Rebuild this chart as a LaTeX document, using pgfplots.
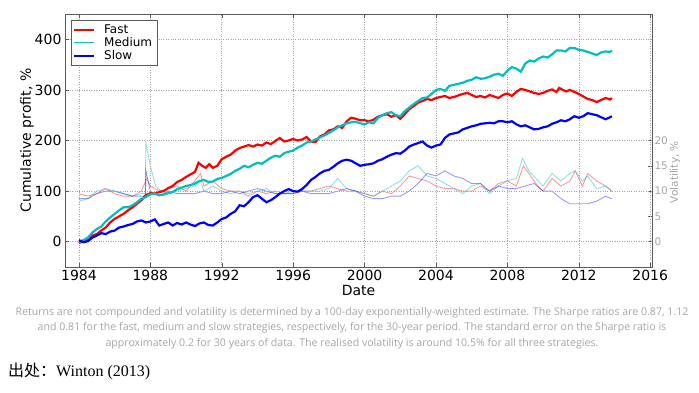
\documentclass[border=0pt]{standalone}
\usepackage{fontspec}
\setmainfont{DejaVu Sans}
\newfontfamily\capfont{Open Sans}
\newfontfamily\cjk{Noto Sans CJK SC}
\newfontfamily\serifw{Liberation Serif}
\usepackage{pgfplots}
\usepackage{pgfplotstable}
\pgfplotsset{compat=1.18}
\definecolor{mred}{rgb}{1,0,0}
\definecolor{mcyan}{rgb}{0,0.75,0.75}
\definecolor{mblue}{rgb}{0,0,1}
\definecolor{capgray}{RGB}{165,165,165}
\definecolor{spine}{RGB}{90,90,90}

\pgfplotstableread{
x y
1984.0 -3
1984.25 2
1984.5 5
1984.75 12
1985.0 15
1985.25 22
1985.5 28
1985.75 38
1986.0 45
1986.25 50
1986.5 55
1986.75 62
1987.0 68
1987.25 75
1987.5 82
1987.75 92
1988.0 96
1988.25 95
1988.5 98
1988.75 100
1989.0 106
1989.25 110
1989.5 118
1989.75 122
1990.0 128
1990.25 133
1990.5 138
1990.7 156
1990.9 150
1991.1 146
1991.3 153
1991.5 146
1991.75 150
1992.0 163
1992.25 168
1992.5 172
1992.75 180
1993.0 185
1993.25 188
1993.5 191
1993.75 188
1994.0 192
1994.25 190
1994.5 196
1994.75 193
1995.0 199
1995.25 205
1995.5 198
1995.75 200
1996.0 203
1996.25 200
1996.5 202
1996.75 207
1997.0 198
1997.25 197
1997.5 208
1997.75 212
1998.0 220
1998.25 222
1998.5 228
1998.75 225
1999.0 238
1999.25 245
1999.5 243
1999.75 240
2000.0 240
2000.25 238
2000.5 241
2000.75 247
2001.0 250
2001.25 252
2001.5 247
2001.75 250
2002.0 243
2002.25 252
2002.5 262
2002.75 268
2003.0 275
2003.25 278
2003.5 282
2003.75 280
2004.0 284
2004.25 286
2004.5 288
2004.75 284
2005.0 286
2005.25 289
2005.5 292
2005.75 294
2006.0 290
2006.25 286
2006.5 288
2006.75 285
2007.0 290
2007.25 287
2007.5 284
2007.75 290
2008.0 293
2008.25 288
2008.5 296
2008.75 302
2009.0 300
2009.25 297
2009.5 294
2009.75 292
2010.0 294
2010.25 298
2010.5 301
2010.75 296
2010.9 304
2011.1 300
2011.3 297
2011.5 300
2011.75 296
2012.0 292
2012.25 287
2012.5 282
2012.75 280
2013.0 276
2013.25 280
2013.5 284
2013.75 281
2013.85 284
}\fast

\pgfplotstableread{
x y
1984.0 0
1984.25 3
1984.5 8
1984.75 18
1985.0 25
1985.25 30
1985.5 40
1985.75 48
1986.0 55
1986.25 62
1986.5 68
1986.75 68
1987.0 72
1987.25 78
1987.5 85
1987.75 88
1988.0 94
1988.25 95
1988.5 92
1988.75 93
1989.0 96
1989.25 98
1989.5 104
1989.75 107
1990.0 110
1990.25 112
1990.5 115
1990.75 120
1991.0 122
1991.25 118
1991.5 119
1991.75 124
1992.0 126
1992.25 130
1992.5 134
1992.75 140
1993.0 144
1993.25 150
1993.5 147
1993.75 152
1994.0 156
1994.25 154
1994.5 160
1994.75 166
1995.0 170
1995.25 168
1995.5 175
1995.75 178
1996.0 180
1996.25 186
1996.5 190
1996.75 196
1997.0 198
1997.25 202
1997.5 206
1997.75 210
1998.0 215
1998.25 220
1998.5 226
1998.75 230
1999.0 234
1999.25 236
1999.5 237
1999.75 234
2000.0 232
2000.25 236
2000.5 234
2000.75 245
2001.0 250
2001.25 254
2001.5 256
2001.75 250
2002.0 248
2002.25 258
2002.5 265
2002.75 272
2003.0 278
2003.25 284
2003.5 285
2003.75 292
2004.0 300
2004.25 302
2004.5 298
2004.75 308
2005.0 310
2005.25 312
2005.5 314
2005.75 318
2006.0 320
2006.25 325
2006.5 322
2006.75 323
2007.0 326
2007.25 330
2007.5 332
2007.75 328
2008.0 338
2008.25 345
2008.5 342
2008.75 336
2009.0 352
2009.25 358
2009.5 356
2009.75 362
2010.0 366
2010.25 364
2010.5 370
2010.75 378
2011.0 378
2011.25 376
2011.5 383
2011.75 383
2012.0 379
2012.25 378
2012.5 375
2012.75 372
2013.0 369
2013.25 374
2013.5 376
2013.75 375
2013.85 378
}\medium

\pgfplotstableread{
x y
1984.0 3
1984.25 -1
1984.5 1
1984.75 8
1985.0 12
1985.25 17
1985.5 15
1985.75 20
1986.0 22
1986.25 28
1986.5 30
1986.75 33
1987.0 35
1987.25 40
1987.5 42
1987.75 38
1988.0 40
1988.25 44
1988.5 32
1988.75 35
1989.0 38
1989.25 32
1989.5 37
1989.75 34
1990.0 38
1990.25 34
1990.5 31
1990.75 36
1991.0 38
1991.25 33
1991.5 32
1991.75 38
1992.0 45
1992.25 48
1992.5 55
1992.75 60
1993.0 72
1993.25 70
1993.5 78
1993.75 88
1994.0 92
1994.25 85
1994.5 78
1994.75 82
1995.0 88
1995.25 95
1995.5 100
1995.75 104
1996.0 100
1996.25 99
1996.5 104
1996.75 112
1997.0 122
1997.25 128
1997.5 135
1997.75 140
1998.0 142
1998.25 148
1998.5 155
1998.75 160
1999.0 162
1999.25 160
1999.5 155
1999.75 150
2000.0 152
2000.25 153
2000.5 155
2000.75 160
2001.0 163
2001.25 168
2001.5 172
2001.75 175
2002.0 174
2002.25 180
2002.5 188
2002.75 192
2003.0 195
2003.25 198
2003.5 190
2003.75 186
2004.0 190
2004.25 192
2004.5 205
2004.75 212
2005.0 214
2005.25 216
2005.5 222
2005.75 225
2006.0 228
2006.25 230
2006.5 233
2006.75 234
2007.0 235
2007.25 234
2007.5 238
2007.75 238
2008.0 236
2008.25 238
2008.5 232
2008.75 228
2009.0 230
2009.25 226
2009.5 222
2009.75 223
2010.0 226
2010.25 228
2010.5 233
2010.75 236
2011.0 240
2011.25 238
2011.5 242
2011.75 248
2012.0 245
2012.25 248
2012.5 254
2012.75 252
2013.0 250
2013.25 246
2013.5 242
2013.75 246
2013.85 248
}\slow

\pgfplotstableread{
x v
1984.0 9.5
1984.5 9.0
1985.0 9.5
1985.5 10.5
1986.0 9.5
1986.5 9.0
1987.0 9.0
1987.5 10.0
1987.8 12.5
1988.0 11.0
1988.5 10.0
1989.0 10.5
1989.5 11.0
1990.0 10.0
1990.5 12.0
1990.8 13.5
1991.0 11.0
1991.5 12.0
1992.0 10.5
1992.5 10.0
1993.0 10.0
1993.5 9.0
1994.0 10.0
1994.5 9.5
1995.0 10.0
1995.5 9.5
1996.0 9.5
1996.5 10.0
1997.0 10.0
1997.5 10.5
1998.0 11.0
1998.5 10.5
1999.0 10.0
1999.5 10.0
2000.0 9.5
2000.5 9.0
2001.0 10.0
2001.5 9.5
2002.0 11.0
2002.5 13.0
2003.0 12.5
2003.5 12.0
2004.0 11.0
2004.5 10.5
2005.0 10.5
2005.5 10.0
2006.0 10.0
2006.5 11.0
2007.0 10.0
2007.5 11.5
2008.0 12.0
2008.5 11.0
2008.9 15.0
2009.3 13.0
2009.7 11.0
2010.0 10.0
2010.5 12.5
2011.0 11.0
2011.5 12.0
2011.8 14.0
2012.2 11.0
2012.5 13.5
2013.0 12.0
2013.5 11.0
2013.85 10.0
}\fastvol

\pgfplotstableread{
x v
1984.0 8.0
1984.5 8.5
1985.0 10.0
1985.5 10.5
1986.0 10.0
1986.5 9.5
1987.0 9.0
1987.5 9.5
1987.72 9.5
1987.75 19.5
1988.0 15.0
1988.3 11.0
1988.6 10.0
1989.0 9.5
1989.5 10.0
1990.0 10.5
1990.5 11.0
1990.8 12.0
1991.0 10.0
1991.5 11.0
1992.0 10.0
1992.5 9.5
1993.0 10.0
1993.5 9.5
1994.0 10.0
1994.5 10.5
1995.0 9.5
1995.5 9.5
1996.0 10.0
1996.5 10.0
1997.0 10.0
1997.5 10.0
1998.0 10.5
1998.5 12.5
1999.0 10.5
1999.5 10.0
2000.0 9.5
2000.5 9.0
2001.0 10.0
2001.5 11.0
2002.0 12.0
2002.5 14.0
2003.0 15.0
2003.5 13.0
2004.0 12.5
2004.5 11.5
2005.0 10.5
2005.5 9.5
2006.0 11.0
2006.5 11.5
2007.0 9.5
2007.5 11.0
2008.0 12.0
2008.5 12.5
2008.85 16.5
2009.2 14.0
2009.6 12.5
2010.0 11.0
2010.5 13.5
2011.0 12.0
2011.5 13.5
2011.8 14.0
2012.2 12.0
2012.5 13.0
2013.0 10.5
2013.5 11.0
2013.85 10.0
}\medvol

\pgfplotstableread{
x v
1984.0 8.5
1984.5 8.5
1985.0 9.5
1985.5 10.0
1986.0 10.0
1986.5 9.5
1987.0 9.0
1987.5 9.0
1987.72 9.0
1987.75 14.0
1988.0 10.0
1988.5 9.0
1989.0 10.0
1989.5 9.5
1990.0 9.5
1990.5 9.5
1991.0 10.0
1991.5 9.5
1992.0 9.5
1992.5 10.0
1993.0 9.5
1993.5 10.0
1994.0 10.5
1994.5 10.0
1995.0 9.5
1995.5 9.5
1996.0 9.5
1996.5 10.0
1997.0 9.5
1997.5 9.5
1998.0 9.5
1998.5 10.0
1999.0 10.5
1999.5 10.0
2000.0 9.0
2000.5 8.5
2001.0 8.5
2001.5 9.0
2002.0 9.0
2002.5 10.0
2003.0 11.5
2003.5 13.5
2004.0 13.0
2004.5 14.0
2005.0 13.0
2005.5 12.5
2006.0 11.5
2006.5 11.5
2007.0 10.0
2007.5 11.0
2008.0 10.5
2008.5 10.5
2009.0 11.0
2009.5 11.5
2010.0 10.0
2010.5 10.0
2011.0 8.5
2011.5 7.5
2012.0 7.5
2012.5 7.5
2013.0 8.0
2013.5 9.0
2013.85 8.5
}\slowvol

\begin{document}
\begin{tikzpicture}
\path[use as bounding box] (0pt,0pt) rectangle (699pt,-392pt);
% volatility axis (drawn first so main lines lie above)
\begin{axis}[
  at={(65pt,-267pt)}, anchor=south west,
  width=587pt, height=253pt, scale only axis,
  xmin=1983.22, xmax=2016.1,
  ymin=-5, ymax=45,
  axis y line*=right,
  axis x line=none,
  ytick={0,5,10,15,20},
  tick align=inside,
  major tick length=4pt,
  y axis line style={draw=none},
  ytick style={spine, line width=0.5pt},
  yticklabel style={font=\fontsize{10.5}{12}\selectfont, text=capgray, anchor=west, xshift=-1pt},
  /pgf/number format/assume math mode=true,
  ylabel={Volatility, \%},
  every axis y label/.style={at={(rel axis cs:1.039,0.375)}, rotate=90, anchor=center,
    font=\fontsize{10.5}{12}\selectfont, text=capgray},
]
\addplot[mred, opacity=0.4, line width=0.9pt] table[x=x, y=v] {\fastvol};
\addplot[mcyan, opacity=0.45, line width=0.9pt] table[x=x, y=v] {\medvol};
\addplot[mblue, opacity=0.4, line width=0.9pt] table[x=x, y=v] {\slowvol};
\end{axis}
% main axis
\begin{axis}[
  at={(65pt,-267pt)}, anchor=south west,
  width=587pt, height=253pt, scale only axis,
  xmin=1983.22, xmax=2016.1,
  ymin=-50, ymax=450,
  xtick={1984,1988,...,2016},
  ytick={0,100,200,300,400},
  xticklabel style={/pgf/number format/1000 sep={}},
  /pgf/number format/assume math mode=true,
  ticklabel style={font=\fontsize{14}{16}\selectfont},
  tick align=inside,
  xtick pos=both,
  ytick pos=left,
  major tick length=4pt,
  tick style={spine, line width=0.5pt},
  axis line style={spine, line width=0.8pt},
  grid=major,
  major grid style={dotted, gray!70, line width=0.6pt},
  xlabel={Date},
  xlabel style={font=\fontsize{14}{16}\selectfont, yshift=3pt},
  ylabel={Cumulative profit, \%},
  ylabel style={font=\fontsize{14}{16}\selectfont, yshift=-6pt},
  legend style={at={(0.0102,0.975)}, anchor=north west, draw=spine, line width=0.6pt,
    font=\fontsize{12}{12}\selectfont, inner xsep=2pt, inner ysep=2pt, row sep=-1.5pt, legend cell align=left,
    nodes={inner xsep=3pt}},
  legend image code/.code={\draw[#1, line width=1.6pt] (0pt,0pt) -- (20pt,0pt); \path (26pt,0pt);},
]
\addplot[mred, line width=2.2pt] table[x=x, y=y] {\fast};
\addlegendentry{Fast}
\addplot[mcyan, line width=2.2pt] table[x=x, y=y] {\medium};
\addlegendentry{Medium}
\addplot[mblue, line width=2.2pt] table[x=x, y=y] {\slow};
\addlegendentry{Slow}
\end{axis}
\node[font=\capfont\fontsize{10.6}{15.3}\selectfont, text=capgray, align=center, anchor=center] at (352pt,-328pt)
{Returns are not compounded and volatility is determined by a 100-day exponentially-weighted estimate. The Sharpe ratios are 0.87, 1.12\\
and 0.81 for the fast, medium and slow strategies, respectively, for the 30-year period. The standard error on the Sharpe ratio is\\
approximately 0.2 for 30 years of data. The realised volatility is around 10.5\% for all three strategies.};
\node[anchor=west, inner sep=0pt] at (8pt,-371pt) {{\cjk\fontsize{16}{18}\selectfont 出处：}{\serifw\fontsize{16}{18}\selectfont Winton (2013)}};
\end{tikzpicture}
\end{document}
